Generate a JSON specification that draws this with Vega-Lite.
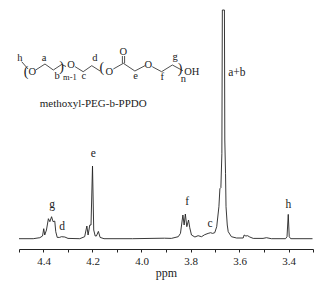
{"$schema":"https://vega.github.io/schema/vega-lite/v6.json","width":294,"height":249,"autosize":"none","padding":{"left":19,"top":0,"right":16,"bottom":36},"background":"white","view":{"stroke":null},
"datasets":{
"spectrum":[{"p":4.5,"i":0},{"p":4.442,"i":0},{"p":4.415,"i":1},{"p":4.404,"i":2.7},{"p":4.399,"i":10},{"p":4.395,"i":3.7},{"p":4.388,"i":8.7},{"p":4.38,"i":20},{"p":4.374,"i":17},{"p":4.367,"i":22},{"p":4.361,"i":17},{"p":4.354,"i":17.6},{"p":4.35,"i":7},{"p":4.344,"i":1.3},{"p":4.334,"i":1.3},{"p":4.327,"i":2},{"p":4.313,"i":1.7},{"p":4.3,"i":0.3},{"p":4.252,"i":0},{"p":4.232,"i":2},{"p":4.223,"i":12.7},{"p":4.218,"i":3.7},{"p":4.211,"i":13.7},{"p":4.206,"i":13.7},{"p":4.2,"i":72.7},{"p":4.195,"i":8.7},{"p":4.189,"i":2.7},{"p":4.184,"i":2.7},{"p":4.176,"i":7.3},{"p":4.169,"i":1.3},{"p":4.153,"i":0},{"p":4.037,"i":0},{"p":3.906,"i":0.5},{"p":3.878,"i":0.3},{"p":3.85,"i":2},{"p":3.841,"i":5.3},{"p":3.831,"i":23.7},{"p":3.826,"i":13.7},{"p":3.821,"i":24.7},{"p":3.815,"i":12},{"p":3.808,"i":18.7},{"p":3.803,"i":11},{"p":3.796,"i":3.7},{"p":3.782,"i":1.7},{"p":3.769,"i":3},{"p":3.755,"i":2},{"p":3.742,"i":4},{"p":3.728,"i":5.3},{"p":3.718,"i":6},{"p":3.71,"i":5.3},{"p":3.701,"i":6},{"p":3.693,"i":12},{"p":3.684,"i":32},{"p":3.68,"i":50},{"p":3.676,"i":51},{"p":3.672,"i":85},{"p":3.67,"i":228.7},{"p":3.6615,"i":228.7},{"p":3.66,"i":98.7},{"p":3.657,"i":65},{"p":3.655,"i":32},{"p":3.65,"i":13.7},{"p":3.646,"i":7},{"p":3.633,"i":2},{"p":3.612,"i":0.7},{"p":3.585,"i":0.7},{"p":3.581,"i":3.7},{"p":3.574,"i":2.7},{"p":3.567,"i":3},{"p":3.558,"i":1.7},{"p":3.544,"i":0.3},{"p":3.504,"i":0.3},{"p":3.49,"i":1},{"p":3.47,"i":0},{"p":3.412,"i":0},{"p":3.406,"i":2},{"p":3.401,"i":24.3},{"p":3.397,"i":2},{"p":3.391,"i":0},{"p":3.302,"i":0}],
"bonds":[{"b":1,"p":4.489,"i":177},{"b":1,"p":4.463,"i":169.7},{"b":2,"p":4.432,"i":168.7},{"b":2,"p":4.394,"i":174.7},{"b":2,"p":4.36,"i":168.7},{"b":2,"p":4.326,"i":174.2},{"b":2,"p":4.308,"i":172.2},{"b":3,"p":4.271,"i":172},{"b":3,"p":4.238,"i":167},{"b":3,"p":4.203,"i":173},{"b":3,"p":4.169,"i":167.7},{"b":4,"p":4.115,"i":169.7},{"b":4,"p":4.074,"i":175.4},{"b":4,"p":4.027,"i":167.7},{"b":4,"p":3.986,"i":173},{"b":5,"p":4.078,"i":182.7},{"b":5,"p":4.078,"i":175.4},{"b":6,"p":4.069,"i":182.7},{"b":6,"p":4.069,"i":175.4},{"b":7,"p":3.956,"i":172},{"b":7,"p":3.918,"i":167},{"b":7,"p":3.874,"i":173.7},{"b":7,"p":3.831,"i":168}],
"peaks":[{"t":"g","p":4.365,"i":33.7},{"t":"d","p":4.324,"i":12},{"t":"e","p":4.197,"i":84.4},{"t":"f","p":3.814,"i":37},{"t":"c","p":3.72,"i":14.7},{"t":"h","p":3.401,"i":33.7},{"t":"a+b","p":3.611,"i":166}],
"atoms":[{"t":"h","p":4.496,"i":181},{"t":"a","p":4.398,"i":181},{"t":"b","p":4.344,"i":162.7},{"t":"c","p":4.235,"i":162.7},{"t":"d","p":4.19,"i":181},{"t":"e","p":4.024,"i":162.7},{"t":"f","p":3.915,"i":161.4},{"t":"g","p":3.863,"i":182},{"t":"O","p":4.446,"i":167},{"t":"O","p":4.288,"i":173.7},{"t":"O","p":4.131,"i":167},{"t":"O","p":4.074,"i":186.4},{"t":"O","p":3.972,"i":173.7},{"t":"OH","p":3.795,"i":167},{"t":"n","p":3.829,"i":159.5}],
"parens":[{"t":"(","p":4.471,"i":167.2},{"t":")","p":4.326,"i":172},{"t":"(","p":4.162,"i":170.7},{"t":")","p":3.843,"i":170}],
"sub":[{"t":"m-1","p":4.292,"i":162}],
"caption":[{"t":"methoxyl-PEG-b-PPDO","p":4.197,"i":134.7}]
},
"encoding":{
"x":{"field":"p","type":"quantitative","scale":{"domain":[4.5,3.3],"nice":false,"zero":false},"axis":{"title":"ppm","values":[4.5,4.4,4.3,4.2,4.1,4.0,3.9,3.8,3.7,3.6,3.5,3.4,3.3],"labelExpr":"indexof(['4.4','4.2','4.0','3.8','3.6','3.4'],format(datum.value,'.1f'))>=0?format(datum.value,'.1f'):''","grid":false,"tickSize":3,"tickColor":"#222","domainColor":"#222","labelFont":"Liberation Serif","labelFontSize":11,"labelColor":"#222","labelPadding":3,"labelOverlap":false,"labelFlush":false,"titleFont":"Liberation Serif","titleFontSize":12,"titleFontWeight":"normal","titleColor":"#222","titlePadding":1}},
"y":{"field":"i","type":"quantitative","scale":{"domain":[-10.3,238.7],"nice":false,"zero":false},"axis":null}
},
"layer":[
{"data":{"name":"spectrum"},"mark":{"type":"line","color":"#222","strokeWidth":0.9,"clip":true}},
{"data":{"name":"bonds"},"mark":{"type":"line","color":"#222","strokeWidth":0.8},"encoding":{"detail":{"field":"b"}}},
{"data":{"name":"peaks"},"mark":{"type":"text","font":"Liberation Serif","fontSize":11.5,"color":"#222"},"encoding":{"text":{"field":"t"}}},
{"data":{"name":"atoms"},"mark":{"type":"text","font":"Liberation Serif","fontSize":10.5,"color":"#222"},"encoding":{"text":{"field":"t"}}},
{"data":{"name":"parens"},"mark":{"type":"text","font":"Liberation Serif","fontSize":14,"fontWeight":"normal","color":"#222"},"encoding":{"text":{"field":"t"}}},
{"data":{"name":"sub"},"mark":{"type":"text","font":"Liberation Serif","fontSize":8.5,"color":"#222"},"encoding":{"text":{"field":"t"}}},
{"data":{"name":"caption"},"mark":{"type":"text","font":"Liberation Serif","fontSize":11,"color":"#222"},"encoding":{"text":{"field":"t"}}}
]}
